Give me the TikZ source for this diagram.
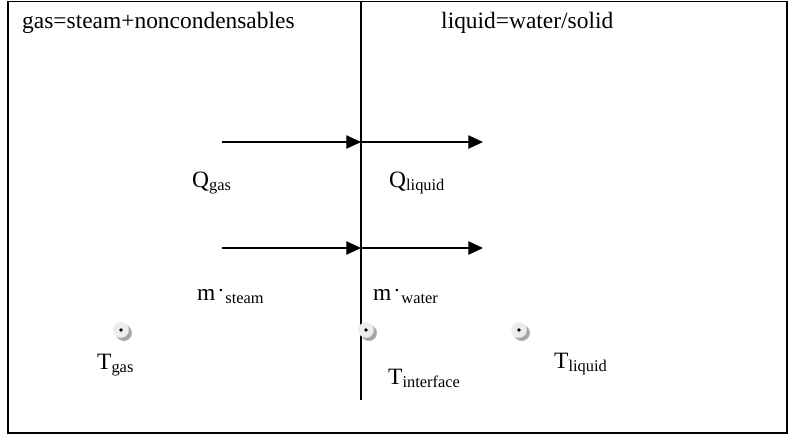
\documentclass[tikz,border=0pt]{standalone}
\usepackage{fontspec}
\setmainfont{Liberation Serif}
\usepackage{tikz}
\usetikzlibrary{
    positioning,
    arrows.meta,
    shadows
}
\definecolor{ProbeGray}{RGB}{236,236,236}
\definecolor{ShadowGray}{RGB}{165,165,165}
\newcommand{\mdot}{m\kern0.12em\raisebox{0.36em}{\fontsize{18}{18}\selectfont.}\kern0.08em}

\begin{document}
\begin{tikzpicture}[
    x=0.03cm, y=-0.03cm,
    frame/.style={draw, line width=1.3pt},
    wall/.style={draw, line width=1.1pt},
    flux/.style={line width=1pt, -{Triangle[length=0.44cm, width=0.4cm]}},
    txt/.style={anchor=base west, inner sep=0pt, font=\fontsize{20}{24}\selectfont},
    probe/.style={circle, inner sep=0pt, minimum size=0.47cm, fill=ProbeGray,
        circular drop shadow={shadow xshift=0.07cm, shadow yshift=-0.07cm,
            fill=ShadowGray, opacity=1},
        path picture={\fill[black] (path picture bounding box.center) circle (0.055cm);}},
]
\useasboundingbox (0,0) rectangle (788,436);
\draw[frame] (8,1.5) rectangle (787,433);

% interface between the two phases
\coordinate (wtop) at (361,1.5);
\coordinate (wbot) at (361,400);
\draw[wall] (wtop) -- (wbot);

\node[txt] (gas) at (22,28) {gas=steam+noncondensables};
\node[txt] (liq) at (441,28) {liquid=water/solid};

% heat flux
\coordinate (qa) at (222,142);
\coordinate (qb) at (361,142);
\coordinate (qc) at (483,142);
\draw[flux] (qa) -- (qb);
\draw[flux] (qb) -- (qc);
\node[txt] (qgas) at (192,187) {Q\textsubscript{gas}};
\node[txt] (qliq) at (389,187) {Q\textsubscript{liquid}};

% mass flux
\coordinate (ma) at (222,248);
\coordinate (mb) at (361,248);
\coordinate (mc) at (483,248);
\draw[flux] (ma) -- (mb);
\draw[flux] (mb) -- (mc);
\node[txt] (msteam) at (197,300) {\mdot\textsubscript{steam}};
\node[txt] (mwater) at (373,300) {\mdot\textsubscript{water}};

% temperatures
\node[probe] (pgas) at (121,330) {};
\node[probe] (pint) at (366,330) {};
\node[probe] (pliq) at (519,330) {};
\node[txt] (tgas) at (97,369) {T\textsubscript{gas}};
\node[txt] (tint) at (388,384) {T\textsubscript{interface}};
\node[txt] (tliq) at (554,368) {T\textsubscript{liquid}};
\end{tikzpicture}
\end{document}
